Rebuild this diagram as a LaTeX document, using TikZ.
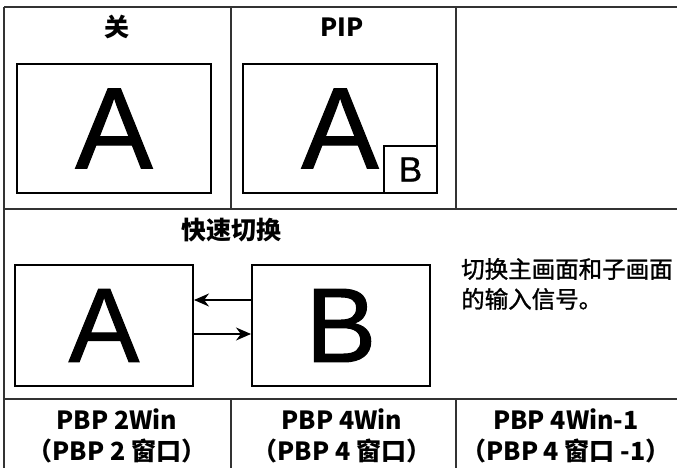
\documentclass[tikz,border=0pt]{standalone}
\usepackage{fontspec}
\newfontfamily\cjk{Noto Sans CJK SC}
\newfontfamily\cjkmed{Noto Sans CJK SC}[FakeBold=1.2]
\newfontfamily\letterfont{Liberation Sans}[FakeBold=1]
\usetikzlibrary{arrows.meta, positioning}
\tikzset{
  mainwin/.style={rectangle, draw, line width=2pt, inner sep=0pt,
                  minimum width=194pt, minimum height=129pt,
                  font=\letterfont\fontsize{116}{116}\selectfont},
  swapwin/.style={mainwin, minimum width=178pt, minimum height=121pt,
                  font=\letterfont\fontsize{106}{106}\selectfont},
  subwin/.style={mainwin, minimum width=53pt, minimum height=47pt,
                 font=\letterfont\fontsize{35}{35}\selectfont},
  hdr/.style={font=\cjk\bfseries\fontsize{25}{25}\selectfont, inner sep=0pt},
  desc/.style={font=\cjkmed\fontsize{23.5}{30}\selectfont, align=left,
               anchor=west, inner sep=0pt},
  mode/.style={font=\cjk\bfseries\fontsize{25}{31}\selectfont,
               align=center, inner sep=0pt},
  grid/.style={line width=1.2pt, black!80},
  arr/.style={-{Stealth[length=15pt, width=13pt]}, line width=1.4pt},
}
\begin{document}
\begin{tikzpicture}[x=1pt, y=-1pt]
  \useasboundingbox (0,0) rectangle (677,468);
  % table grid
  \draw[grid] (4,7) -- (677,7);
  \draw[grid] (4,7) -- (4,468);
  \draw[grid] (4,209) -- (677,209);
  \draw[grid] (4,399) -- (677,399);
  \foreach \x in {231,456} {
    \draw[grid] (\x,7) -- (\x,209);
    \draw[grid] (\x,399) -- (\x,468);
  }
  % row 1: off and PIP
  \node[hdr] (off) at (117,27) {关};
  \node[hdr] (pip) at (342,27) {PIP};
  \node[mainwin] (offA) at (114,128.5) {A};
  \node[mainwin] (pipA) at (340,128.5) {A};
  \node[subwin, anchor=south east] (pipB) at (pipA.south east) {B};
  % row 2: quick swap
  \node[hdr] (qs) at (231,230) {快速切换};
  \node[swapwin] (swA) at (104,325.5) {A};
  \node[swapwin] (swB) at (341,325.5) {B};
  \draw[arr] ([yshift=25.5pt]swB.west) -- ([yshift=25.5pt]swA.east);
  \draw[arr] ([yshift=-8.5pt]swA.east) -- ([yshift=-8.5pt]swB.west);
  \node[desc] (note) at (461,284) {切换主画面和子画面\\的输入信号。};
  % row 3: PBP modes
  \node[mode] (pbp2) at (117,436) {PBP 2Win\\（PBP 2 窗口）};
  \node[mode] (pbp4) at (342,436) {PBP 4Win\\（PBP 4 窗口）};
  \node[mode] (pbp41) at (566,436) {PBP 4Win-1\\（PBP 4 窗口 -1）};
\end{tikzpicture}
\end{document}
